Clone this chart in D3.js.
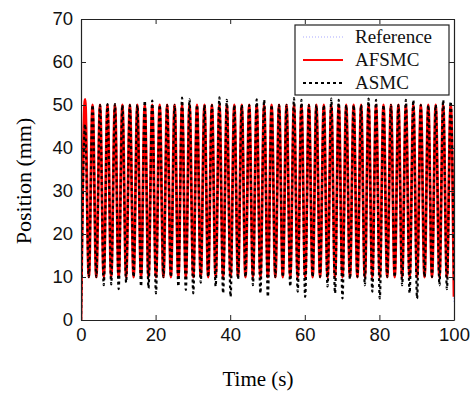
<!DOCTYPE html>
<html>
<head>
<meta charset="utf-8">
<script src="https://cdn.jsdelivr.net/npm/d3@7"></script>
<style>
  body { margin: 0; background: #fff; }
  svg { display: block; }
</style>
</head>
<body>
<svg id="chart" width="471" height="394"></svg>
<script>
// time of each crest and each valley (s)
const peakTimes = [1.1, 3.1, 5.1, 7.1, 9.1, 11.1, 13.1, 15.1, 17.1, 19.1,
  21.1, 23.1, 25.1, 27.1, 29.1, 31.1, 33.1, 35.1, 37.1, 39.1,
  41.1, 43.1, 45.1, 47.1, 49.1, 51.1, 53.1, 55.1, 57.1, 59.1,
  61.1, 63.1, 65.1, 67.1, 69.1, 71.1, 73.1, 75.1, 77.1, 79.1,
  81.1, 83.1, 85.1, 87.1, 89.1, 91.1, 93.1, 95.1, 97.1, 99.1]
const troughTimes = [2.1, 4.1, 6.1, 8.1, 10.1, 12.1, 14.1, 16.1, 18.1, 20.1,
  22.1, 24.1, 26.1, 28.1, 30.1, 32.1, 34.1, 36.1, 38.1, 40.1,
  42.1, 44.1, 46.1, 48.1, 50.1, 52.1, 54.1, 56.1, 58.1, 60.1,
  62.1, 64.1, 66.1, 68.1, 70.1, 72.1, 74.1, 76.1, 78.1, 80.1,
  82.1, 84.1, 86.1, 88.1, 90.1, 92.1, 94.1, 96.1, 98.1]

// Reference
const refPeaks = [50, 50, 50, 50, 50, 50, 50, 50, 50, 50,
  50, 50, 50, 50, 50, 50, 50, 50, 50, 50,
  50, 50, 50, 50, 50, 50, 50, 50, 50, 50,
  50, 50, 50, 50, 50, 50, 50, 50, 50, 50,
  50, 50, 50, 50, 50, 50, 50, 50, 50, 50]
const refTroughs = [10, 10, 10, 10, 10, 10, 10, 10, 10, 10,
  10, 10, 10, 10, 10, 10, 10, 10, 10, 10,
  10, 10, 10, 10, 10, 10, 10, 10, 10, 10,
  10, 10, 10, 10, 10, 10, 10, 10, 10, 10,
  10, 10, 10, 10, 10, 10, 10, 10, 10]
const refEnds = [0, 4]

// AFSMC
const afsmcPeaks = [51.3, 50, 50, 50, 50, 50, 50, 50, 50, 50,
  50, 50, 50, 50, 50, 50, 50, 50, 50, 50,
  50, 50, 50, 50, 50, 50, 50, 50, 50, 50,
  50, 50, 50, 50, 50, 50, 50, 50, 50, 50,
  50, 50, 50, 50, 50, 50, 50, 50, 50, 50]
const afsmcTroughs = [10, 10, 10, 10, 10, 10, 10, 10, 10, 10,
  10, 10, 10, 10, 10, 10, 10, 10, 10, 10,
  10, 10, 10, 10, 10, 10, 10, 10, 10, 10,
  10, 10, 10, 10, 10, 10, 10, 10, 10, 10,
  10, 10, 10, 10, 10, 10, 10, 10, 10]
const afsmcEnds = [0, 5.4]

// ASMC
const asmcPeaks = [45.5, 50, 50, 50.2, 50.2, 50, 50, 50, 51, 51,
  50, 50, 50, 51.7, 51.3, 50, 50, 50, 51.8, 51.2,
  50, 50, 50, 51.3, 51.2, 50, 50, 50, 51.6, 51.2,
  50, 50, 50, 51.5, 51.2, 50, 50, 50, 51.5, 51.2,
  50, 50, 50, 51.2, 51.2, 50, 50, 50, 51.2, 50.8]
const asmcTroughs = [10, 10, 8.1, 8.3, 7.2, 8.7, 10, 7.8, 7.4, 6.2,
  10, 10, 7.8, 7.0, 6.2, 8.7, 10, 7.8, 6.2, 5.4,
  9.5, 10, 8.1, 6.2, 5.4, 10, 10, 7.8, 6.6, 5.4,
  10, 10, 7.8, 6.2, 5.0, 9.5, 10, 8.1, 6.6, 5.0,
  10, 10, 8.1, 6.2, 5.0, 10, 10, 8.1, 7.2]
const asmcEnds = [0, 9]

const xTicks = [0, 20, 40, 60, 80, 100]
const yTicks = [0, 10, 20, 30, 40, 50, 60, 70]
const seriesNames = ['Reference', 'AFSMC', 'ASMC']

function buildSeries(peaks, troughs, ends) {
  let pts = [[0, ends[0]]]
  peaks.forEach((p, i) => {
    pts.push([peakTimes[i], p])
    if (i < troughs.length) pts.push([troughTimes[i], troughs[i]])
  })
  pts.push([100, ends[1]])
  return pts
}

const series = [
  { name: seriesNames[0], pts: buildSeries(refPeaks, refTroughs, refEnds), color: '#a9a9ff', width: 1.2, legendWidth: 1.2, dash: '1,2' },
  { name: seriesNames[1], pts: buildSeries(afsmcPeaks, afsmcTroughs, afsmcEnds), color: '#ff0000', width: 2.8, legendWidth: 2, dash: null },
  { name: seriesNames[2], pts: buildSeries(asmcPeaks, asmcTroughs, asmcEnds), color: '#000000', width: 2.2, legendWidth: 2, dash: '3,3' }
]

const svg = d3.select('#chart')
const m = { left: 81, right: 454, top: 19, bottom: 320 }

const x = d3.scaleLinear().domain([0, 100]).range([m.left, m.right])
const y = d3.scaleLinear().domain([0, 70]).range([m.bottom, m.top])

svg.append('defs').append('clipPath').attr('id', 'plotClip')
  .append('rect')
  .attr('x', m.left).attr('y', m.top)
  .attr('width', m.right - m.left).attr('height', m.bottom - m.top)

const line = d3.line()
  .x(d => x(d[0]))
  .y(d => y(d[1]))
  .curve(d3.curveMonotoneX)

const plot = svg.append('g').attr('clip-path', 'url(#plotClip)')
series.forEach(s => {
  plot.append('path')
    .datum(s.pts)
    .attr('d', line)
    .attr('fill', 'none')
    .attr('stroke', s.color)
    .attr('stroke-width', s.width)
    .attr('stroke-dasharray', s.dash)
})

// axes, ticks pointing inward like matlab
const tickFont = '"Liberation Sans", Arial, sans-serif'
const axB = svg.append('g').attr('transform', `translate(0,${m.bottom})`)
  .call(d3.axisBottom(x).tickValues(xTicks).tickSizeInner(-5).tickSizeOuter(0).tickPadding(8))
const axT = svg.append('g').attr('transform', `translate(0,${m.top})`)
  .call(d3.axisTop(x).tickValues(xTicks).tickSizeInner(-5).tickSizeOuter(0).tickFormat(''))
const axL = svg.append('g').attr('transform', `translate(${m.left},0)`)
  .call(d3.axisLeft(y).tickValues(yTicks).tickSizeInner(-5).tickSizeOuter(0).tickPadding(8))
const axR = svg.append('g').attr('transform', `translate(${m.right},0)`)
  .call(d3.axisRight(y).tickValues(yTicks).tickSizeInner(-5).tickSizeOuter(0).tickFormat(''))

;[axB, axT, axL, axR].forEach(a => {
  a.select('.domain').attr('stroke', '#222').attr('stroke-width', 1.2)
  a.selectAll('.tick line').attr('stroke', '#222')
  a.selectAll('text').attr('font-family', tickFont).attr('font-size', 18.5).attr('fill', '#111')
})

svg.append('text')
  .attr('x', 258).attr('y', 386)
  .attr('text-anchor', 'middle')
  .attr('font-family', '"Liberation Serif", "Times New Roman", serif')
  .attr('font-size', 21)
  .text('Time (s)')

svg.append('text')
  .attr('transform', `translate(31,181) rotate(-90)`)
  .attr('text-anchor', 'middle')
  .attr('font-family', '"Liberation Serif", "Times New Roman", serif')
  .attr('font-size', 22)
  .text('Position (mm)')

// legend
const lg = svg.append('g').attr('transform', 'translate(295,25)')
lg.append('rect')
  .attr('width', 154).attr('height', 70)
  .attr('fill', '#fff').attr('stroke', '#222').attr('stroke-width', 1.2)
series.forEach((s, i) => {
  const yy = 12 + i * 23
  lg.append('line')
    .attr('x1', 8).attr('x2', 48).attr('y1', yy).attr('y2', yy)
    .attr('stroke', s.color).attr('stroke-width', s.legendWidth)
    .attr('stroke-dasharray', s.dash)
  lg.append('text')
    .attr('x', 60).attr('y', yy + 6)
    .attr('font-family', '"Liberation Serif", "Times New Roman", serif')
    .attr('font-size', 19)
    .attr('fill', '#111')
    .text(s.name)
})
</script>
</body>
</html>
